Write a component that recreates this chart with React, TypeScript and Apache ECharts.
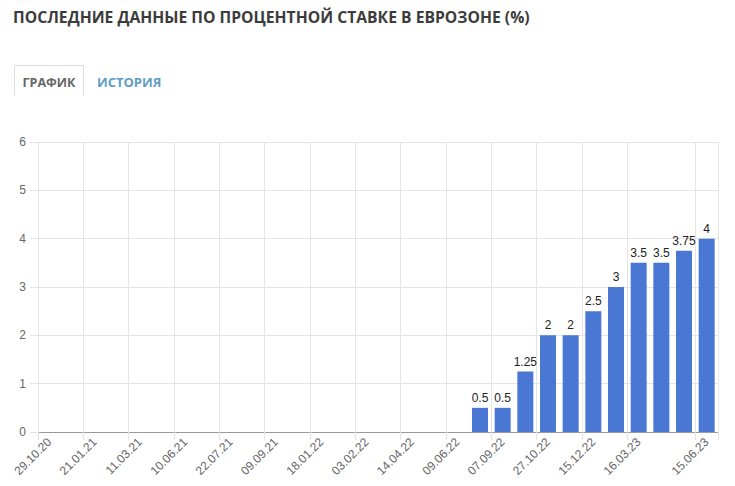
import React, { useEffect, useRef } from "react";
import * as echarts from "echarts";

const titleText = "ПОСЛЕДНИЕ ДАННЫЕ ПО ПРОЦЕНТНОЙ СТАВКЕ В ЕВРОЗОНЕ (%)";
const tabActive = "ГРАФИК";
const tabOther = "ИСТОРИЯ";

const dates = [
  "29.10.20", "10.12.20", "21.01.21", "22.01.21", "11.03.21", "22.04.21",
  "10.06.21", "08.07.21", "22.07.21", "26.08.21", "09.09.21", "16.12.21",
  "18.01.22", "20.01.22", "03.02.22", "10.03.22", "14.04.22", "03.05.22",
  "09.06.22", "21.07.22", "07.09.22", "08.09.22", "27.10.22", "26.11.22",
  "15.12.22", "02.02.23", "16.03.23", "22.03.23", "04.05.23", "15.06.23",
];
const rates: (number | null)[] = [
  null, null, null, null, null, null, null, null, null, null,
  null, null, null, null, null, null, null, null, null,
  0.5, 0.5, 1.25, 2, 2, 2.5, 3, 3.5, 3.5, 3.75, 4,
];
const yTicks = [0, 1, 2, 3, 4, 5, 6];

const shown = (i: number) => (i % 2 === 0 && i <= 26) || i === dates.length - 1;

export default function App() {
  const ref = useRef<HTMLDivElement>(null);
  useEffect(() => {
    const chart = echarts.init(ref.current!, null, { renderer: "svg" });
    chart.setOption({
      animation: false,
      backgroundColor: "#ffffff",
      title: {
        text: titleText,
        left: 8,
        top: 4,
        textStyle: {
          fontFamily: "Open Sans",
          fontWeight: "bold",
          fontSize: 15.7,
          color: "#3c3c3c",
        },
      },
      graphic: [
        {
          type: "polyline",
          shape: { points: [[14.5, 95], [14.5, 65.5], [83.5, 65.5], [83.5, 95]] },
          style: { stroke: "#dddddd", lineWidth: 1, fill: null },
        },
        {
          type: "text",
          x: 49,
          y: 82,
          style: {
            text: tabActive,
            fontFamily: "Open Sans",
            fontWeight: "bold",
            fontSize: 12.5,
            fill: "#666666",
            align: "center",
            verticalAlign: "middle",
          },
        },
        {
          type: "text",
          x: 97,
          y: 82,
          style: {
            text: tabOther,
            fontFamily: "Open Sans",
            fontWeight: "bold",
            fontSize: 13,
            fill: "#5f9cc5",
            align: "left",
            verticalAlign: "middle",
          },
        },
      ],
      grid: { left: 38, right: 17, top: 142, bottom: 54 },
      xAxis: {
        type: "category",
        data: dates,
        boundaryGap: true,
        axisLine: { lineStyle: { color: "#9a9a9a", width: 1 } },
        axisTick: {
          show: true,
          interval: (i: number) => shown(i),
          length: 8,
          lineStyle: { color: "#e4e4e4" },
        },
        splitLine: {
          show: true,
          interval: (i: number) => shown(i),
          lineStyle: { color: "#e4e4e4" },
        },
        axisLabel: {
          interval: (i: number) => shown(i),
          rotate: 45,
          color: "#666666",
          fontFamily: "Liberation Sans",
          fontSize: 12,
          margin: 8,
        },
      },
      yAxis: {
        type: "value",
        min: 0,
        max: 6,
        interval: 1,
        axisLine: { show: true, lineStyle: { color: "#e4e4e4" } },
        axisTick: { show: true, length: 8, lineStyle: { color: "#e4e4e4" } },
        splitLine: { lineStyle: { color: "#e4e4e4" } },
        axisLabel: {
          color: "#666666",
          fontFamily: "Liberation Sans",
          fontSize: 12,
          margin: 12,
          formatter: (v: number) => (yTicks.includes(v) ? String(v) : ""),
        },
      },
      series: [
        {
          type: "bar",
          data: rates,
          barWidth: 16,
          itemStyle: { color: "#4a76d4" },
          label: {
            show: true,
            position: "top",
            distance: 4,
            color: "#222222",
            fontFamily: "Liberation Sans",
            fontSize: 12,
          },
        },
      ],
    });
    return () => chart.dispose();
  }, []);
  return (
    <div
      ref={ref}
      style={{ position: "fixed", left: 0, top: 0, width: 735, height: 486 }}
    />
  );
}
